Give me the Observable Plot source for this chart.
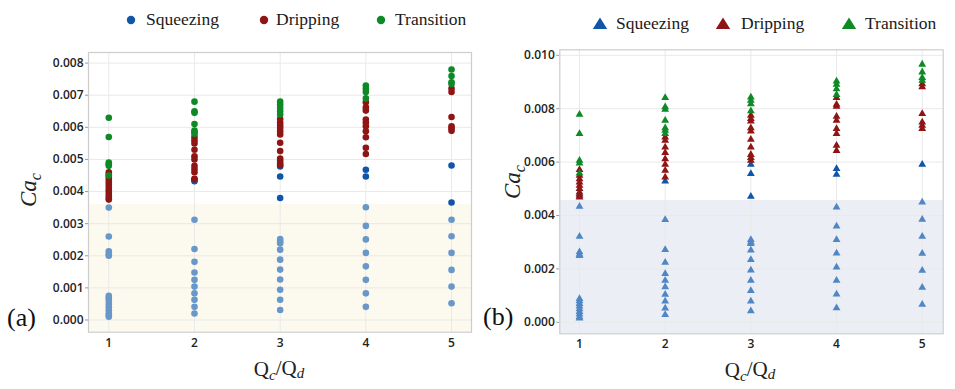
<!DOCTYPE html>
<html>
<head>
<meta charset="utf-8">
<script src="https://cdn.jsdelivr.net/npm/d3@7"></script>
<script src="https://cdn.jsdelivr.net/npm/@observablehq/plot@0.6"></script>
<style>
  html, body { margin: 0; padding: 0; background: #fff; }
  #wrap { position: relative; width: 955px; height: 389px; overflow: hidden; }
  .abs { position: absolute; }
  svg text { font-kerning: normal; }
  g[aria-label="y-axis tick"] path { stroke: #9a9a9a; }
</style>
</head>
<body>
<div id="wrap"></div>
<script>
// ---------------- data ----------------
const qcqd = [1, 2, 3, 4, 5];
const regimes = ["Squeezing", "Dripping", "Transition"];

// Panel (a): Ca_c per Qc/Qd (index 0..4 -> Qc/Qd = 1..5)
const aSqueezing = [
  [0.0035, 0.0026, 0.00214, 0.00205, 0.0020, 0.00075, 0.00068, 0.0006, 0.0005, 0.0004, 0.0003, 0.0002, 0.00015, 0.0001],
  [0.00432, 0.00312, 0.00221, 0.00181, 0.00148, 0.00125, 0.00104, 0.00083, 0.00063, 0.00041, 0.0002],
  [0.00478, 0.00447, 0.0038, 0.00252, 0.00245, 0.00239, 0.00219, 0.00188, 0.00157, 0.00126, 0.00094, 0.00063, 0.00031],
  [0.00468, 0.00447, 0.00351, 0.00293, 0.00251, 0.00209, 0.00167, 0.00125, 0.00083, 0.00041],
  [0.00481, 0.00366, 0.00312, 0.00261, 0.00209, 0.00156, 0.00104, 0.00052]
];
const aDripping = [
  [0.0046, 0.00452, 0.00444, 0.00436, 0.00428, 0.0042, 0.00412, 0.00404, 0.00396, 0.00388, 0.0038, 0.00375],
  [0.0057, 0.0056, 0.0055, 0.0053, 0.0051, 0.0050, 0.0048, 0.0047, 0.0046, 0.0044, 0.00438],
  [0.00626, 0.00615, 0.00606, 0.00598, 0.00588, 0.00578, 0.00552, 0.00526, 0.00503, 0.00496, 0.00488, 0.00482],
  [0.00678, 0.00662, 0.00652, 0.00624, 0.00614, 0.00603, 0.00588, 0.00569, 0.00536, 0.00517],
  [0.00721, 0.0071, 0.00632, 0.00603, 0.00597, 0.00589]
];
const aTransition = [
  [0.0063, 0.0057, 0.0049, 0.00485, 0.0048, 0.0045],
  [0.0068, 0.0065, 0.00645, 0.0061, 0.0059, 0.00585, 0.0058],
  [0.0068, 0.0067, 0.0066, 0.0065, 0.0064],
  [0.0073, 0.0072, 0.0071, 0.0069],
  [0.0078, 0.0076, 0.0074, 0.00735]
];
const aBoundary = 0.0036;
const aYTicks = [0, 0.001, 0.002, 0.003, 0.004, 0.005, 0.006, 0.007, 0.008];

// Panel (b)
const bSqueezing = [
  [0.00481, 0.00434, 0.00321, 0.00263, 0.00254, 0.00249, 0.00088, 0.0008, 0.0007, 0.0006, 0.0005, 0.0004, 0.0003, 0.0002, 0.00015],
  [0.00528, 0.00384, 0.00272, 0.00224, 0.00182, 0.00157, 0.00132, 0.00104, 0.00079, 0.00053, 0.00028],
  [0.00591, 0.00556, 0.00471, 0.00309, 0.003, 0.00294, 0.0027, 0.00234, 0.00195, 0.00157, 0.00118, 0.00079, 0.00042],
  [0.00575, 0.00554, 0.00431, 0.0036, 0.00309, 0.00259, 0.00206, 0.00157, 0.00105, 0.00054],
  [0.00591, 0.0045, 0.00385, 0.00321, 0.00258, 0.00194, 0.0013, 0.00067]
];
const bDripping = [
  [0.00571, 0.0055, 0.00537, 0.00525, 0.00512, 0.005, 0.00487, 0.00475, 0.00468],
  [0.00693, 0.00681, 0.00656, 0.00635, 0.00612, 0.00591, 0.00569, 0.00543],
  [0.00775, 0.00762, 0.00753, 0.00728, 0.00716, 0.00685, 0.00656, 0.00628, 0.00616, 0.00606],
  [0.00841, 0.00816, 0.00808, 0.00771, 0.00756, 0.00725, 0.00706, 0.00662, 0.00643],
  [0.00893, 0.00881, 0.00781, 0.00749, 0.00737, 0.00725]
];
const bTransition = [
  [0.00778, 0.00706, 0.00606, 0.00596, 0.00558],
  [0.00841, 0.00806, 0.00797, 0.00756, 0.00728, 0.00718, 0.00706],
  [0.00843, 0.00831, 0.00818, 0.00791],
  [0.00903, 0.00891, 0.00874, 0.00852],
  [0.00966, 0.00937, 0.00916, 0.00906]
];
const bBoundary = 0.00456;
const bYTicks = [0, 0.002, 0.004, 0.006, 0.008, 0.010];

// ---------------- helpers ----------------
const COL = { S: "#0f56a9", D: "#8f1515", T: "#0d8a25" };

function rowsOf(S, D, T, boundary) {
  const rows = [];
  const push = (arr, key) => arr.forEach((vals, i) =>
    vals.forEach(v => rows.push({ q: qcqd[i], ca: v,
      k: key === "S" && v < boundary ? "SL" : key })));
  push(S, "S"); push(D, "D"); push(T, "T");
  return rows;
}

function panel(o) {
  const rows = rowsOf(o.S, o.D, o.T, o.boundary);
  const svg = Plot.plot({
    width: o.width, height: o.height,
    marginLeft: o.ml, marginRight: o.mr, marginTop: o.mt, marginBottom: o.mb,
    style: { fontFamily: "'Open Sans', sans-serif", fontSize: "12px", fontWeight: 600, color: "#222", background: "transparent" },
    x: { domain: o.xDomain, ticks: qcqd, tickSize: 0, tickPadding: 6, tickFormat: d => String(d), label: null },
    y: { domain: o.yDomain, ticks: o.yTicks, tickSize: 3, tickPadding: 2, tickFormat: d3.format(".3f"), label: null },
    color: { domain: ["SL", "S", "D", "T"], range: [o.light, COL.S, COL.D, COL.T] },
    marks: [
      Plot.rect([o.boundary], { x1: () => o.xDomain[0], x2: () => o.xDomain[1], y1: () => o.yDomain[0], y2: d => d, fill: o.shade }),
      Plot.gridX(qcqd, { stroke: "#e9e9e9", strokeOpacity: 1 }),
      Plot.gridY(o.yTicks, { stroke: "#e9e9e9", strokeOpacity: 1 }),
      Plot.dot(rows, { x: "q", y: "ca", fill: "k", r: o.r, symbol: o.symbol, stroke: "none" }),
      Plot.frame({ stroke: "#cdcdcd", strokeWidth: 1.2 })
    ]
  });
  const s = d3.select(svg);
  // y label  Ca_c
  const yl = s.append("text")
    .attr("transform", `translate(${o.ylx},${o.yly}) rotate(-90)`)
    .attr("text-anchor", "middle")
    .style("font-family", "'Liberation Serif', 'Times New Roman', serif")
    .style("font-style", "italic").style("font-weight", "normal")
    .style("font-size", "23px").attr("fill", "#222");
  yl.append("tspan").text("Ca");
  yl.append("tspan").attr("dy", "0.3em").style("font-size", "16px").text("c");
  // x label  Qc/Qd
  const xl = s.append("text")
    .attr("x", o.xlx).attr("y", o.xly)
    .attr("text-anchor", "middle")
    .style("font-family", "'Liberation Serif', 'Times New Roman', serif")
    .style("font-weight", "normal").style("font-size", "21px").attr("fill", "#222");
  xl.append("tspan").text("Q");
  xl.append("tspan").attr("dy", "0.25em").style("font-style", "italic").style("font-size", "15px").text("c");
  xl.append("tspan").attr("dy", "-0.25em").text("/Q");
  xl.append("tspan").attr("dy", "0.25em").style("font-style", "italic").style("font-size", "15px").text("d");
  // panel tag
  s.append("text").attr("x", o.tagx).attr("y", o.tagy)
    .attr("text-anchor", "start")
    .style("font-family", "'Liberation Serif', 'Times New Roman', serif")
    .style("font-weight", "normal").style("font-size", "26px").attr("fill", "#111")
    .text(o.tag);
  return svg;
}

function legend(width, items, symbol, textY) {
  const svg = d3.create("svg").attr("width", width).attr("height", 40);
  items.forEach(it => {
    if (symbol === "circle") {
      svg.append("circle").attr("cx", it.sx).attr("cy", textY - 5).attr("r", 4.2).attr("fill", it.color);
    } else {
      const cy = textY - 5;
      svg.append("path").attr("d", `M${it.sx},${cy - 6.5}L${it.sx + 7.2},${cy + 5}L${it.sx - 7.2},${cy + 5}Z`).attr("fill", it.color);
    }
    svg.append("text").attr("x", it.tx).attr("y", textY)
      .style("font-family", "'Liberation Serif', 'Times New Roman', serif")
      .style("font-size", "17.5px").attr("fill", "#1a1a1a").text(it.label);
  });
  return svg.node();
}

// ---------------- build ----------------
const wrap = document.getElementById("wrap");
function place(node, left, top) {
  const d = document.createElement("div");
  d.className = "abs"; d.style.left = left + "px"; d.style.top = top + "px";
  d.appendChild(node); wrap.appendChild(d);
}

place(legend(478, [
  { sx: 131, tx: 146, label: regimes[0], color: COL.S },
  { sx: 264, tx: 276, label: regimes[1], color: COL.D },
  { sx: 381, tx: 395, label: regimes[2], color: COL.T }
], "circle", 25), 0, 0);

place(legend(477, [
  { sx: 600 - 478, tx: 616 - 478, label: regimes[0], color: COL.S },
  { sx: 723 - 478, tx: 741 - 478, label: regimes[1], color: COL.D },
  { sx: 849 - 478, tx: 865 - 478, label: regimes[2], color: COL.T }
], "triangle", 29), 478, 0);

place(panel({
  S: aSqueezing, D: aDripping, T: aTransition, boundary: aBoundary, yTicks: aYTicks,
  width: 478, height: 349, ml: 88, mr: 7, mt: 12, mb: 57.3,
  xDomain: [0.763, 5.233], yDomain: [-0.00038, 0.00833],
  shade: "#fcf9ee", light: "#6897c9", symbol: "circle", r: 3.3,
  ylx: 36, yly: 150, xlx: 279, xly: 336, tag: "(a)", tagx: 7, tagy: 286
}), 0, 40);

place(panel({
  S: bSqueezing, D: bDripping, T: bTransition, boundary: bBoundary, yTicks: bYTicks,
  width: 477, height: 349, ml: 81.3, mr: 12.3, mt: 9.3, mb: 55.7,
  xDomain: [0.770, 5.245], yDomain: [-0.00043, 0.010206],
  shade: "#eceef5", light: "#4f86c5", symbol: "triangle", r: 2.9,
  ylx: 42, yly: 142, xlx: 272, xly: 337, tag: "(b)", tagx: 5, tagy: 285
}), 478, 40);
</script>
</body>
</html>
